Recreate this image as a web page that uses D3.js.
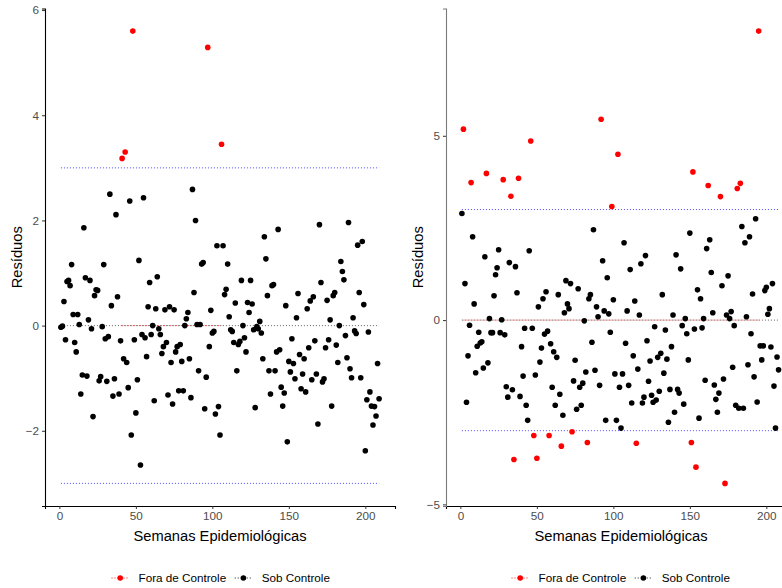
<!DOCTYPE html>
<html>
<head>
<meta charset="utf-8">
<script src="https://cdn.jsdelivr.net/npm/d3@7"></script>
<style>
  body { margin: 0; background: #fff; }
  text { font-family: "Liberation Sans", Arial, sans-serif; }
</style>
</head>
<body>
<svg id="chart" width="782" height="588"></svg>
<script>
// Weekly residuals from two control-chart models
const semanaTicks = [0, 50, 100, 150, 200];
const ticksResiduosA = [-2, 0, 2, 4, 6];
const ticksResiduosB = [-5, 0, 5];
const limiteControle = 3;
const grupos = ["Fora de Controle", "Sob Controle"];
const coresGrupos = ["#ff0000", "#000000"];
const tituloX = "Semanas Epidemiológicas";
const tituloY = "Resíduos";

const residuosA = [
  -0.03, -0.01, 0.46, -0.27, 0.84, 0.86, 0.76, 1.16, 0.21, -0.32,
  -0.50, 0.21, 0.02, -1.30, -0.94, 1.86, 0.91, -0.96, 0.11, 0.86,
  -0.06, -1.73, 0.57, 0.68, 0.67, -1.05, -0.97, -0.02, 1.16, -0.25,
  -1.06, -0.21, 2.50, 0.38, -1.34, -1.01, 2.11, 0.55, -1.30, -0.29,
  3.18, -0.63, 3.30, -0.70, -1.18, 2.37, -2.08, 5.60, -0.27,
  -1.66, -1.03, 1.24, -2.65, -0.17, 2.43, -0.23, -0.59, 0.36, 0.82,
  -0.17, 0.00, -1.43, 0.32, 0.93, -0.06, -0.17, -0.53, -0.40, 0.30,
  -0.32, -1.32, 0.36, -0.70, -1.49, 0.30, -0.50, -0.40, -1.24, -0.36,
  -0.68, -1.24, 0.00, 0.13, 0.25, -0.63, -1.37, 2.59, 0.63, 2.00,
  0.02, -0.86, 0.02, 1.17, 1.20, -1.58, -0.98, 5.29, -0.40, 0.29,
  -0.14, -0.11, -1.68, 1.52, -1.54, -2.08, 3.45, 1.52, 0.59,
  0.69, 1.17, 0.17, -0.08, -0.11, -0.32, 0.43, -0.86, -0.36, -0.30,
  0.86, 0.00, -0.23, -0.50, 0.44, 0.25, 0.86, 0.41, -0.08, -1.56,
  -0.02, -0.06, 0.08, -0.14, -0.63, 1.69, 1.27, 0.57, -0.86, -1.30,
  0.76, 0.78, -0.86, -0.50, 1.83, -0.46, -1.17, -1.53, -1.28, 0.38,
  -2.21, -0.68, -0.88, -0.25, -0.72, -1.01, 0.15, 0.61, -0.55, -1.20,
  -0.92, -0.63, -1.26, 0.32, -0.42, 0.47, -1.03, 0.55, -0.29,
  -0.92, -1.87, 1.92, 0.82, -1.07, -1.01, -0.42, 0.48, -0.27, 0.11,
  -1.53, 0.57, 0.63, -0.37, -0.70, 0.00, 1.22, 1.03, 0.87, -0.19,
  -0.61, 1.96, -0.82, -0.99, 0.15, -0.10, -0.15, 1.53, 0.63, -0.99,
  1.60, 0.40, -2.38, -1.41, -0.12, -1.26, -1.53, -1.89, -1.54, -1.72,
  -0.72, -1.39
];

const residuosB = [
  2.89, 5.18, 0.99, -2.23, -0.97, -0.14, 3.73, 2.26, 0.44, -1.43,
  -0.71, -0.33, -0.62, -0.59, -1.30, 1.72, 3.98, -1.16, 0.04, -0.34,
  -0.34, 0.66, 1.23, 1.42, 1.91, -0.34, 0.01, 3.81, -0.40, -1.81,
  -2.09, 1.56, 3.36, -1.89, -3.78, 1.45, 0.74, 3.85, -2.07, -0.72,
  -1.52, -0.22, -2.31, -2.72, 1.88, 4.86, -0.22, -3.13, -1.49, -3.75,
  0.36, -1.14, -0.76, 0.58, -0.38, 0.77, -0.30, -3.13, -0.64, -1.82,
  -0.86, -2.31, -1.01, 0.69, -2.01, -3.42, -2.58, 0.20, 1.07, 0.44,
  0.31, 0.99, -3.03, -1.65, -1.09, -2.42, 0.85, -1.82, -2.31, -1.71,
  -0.02, -1.41, -3.32, 0.58, 0.69, -0.60, 2.45, -1.36, 0.36, 0.09,
  -1.77, 5.45, 1.61, 0.25, -2.72, 1.15, 0.17, -0.33, 3.08, 0.55,
  -1.46, -2.72, 4.50, -1.82, -2.93, -1.46, 2.10, -0.63, 0.25, -1.77,
  1.37, -2.25, -0.97, 0.52, -3.34, -1.33, 0.14, 1.53, -2.25, -2.09,
  1.75, -0.56, -1.66, -1.11, -2.04, -2.23, -0.18, -2.17, -1.01, -1.93,
  -0.90, 0.69, -1.44, -0.27, -1.06, -2.77, -1.88, -0.72, 0.14, -2.50,
  1.77, -1.88, -1.98, 1.39, -0.15, -2.28, 0.04, -0.37, -1.08, 2.36,
  -3.32, 4.02, -0.24, -3.99, 0.82, -2.66, 0.58, -0.21, 0.04, -1.63,
  1.94, 3.65, 2.18, 1.29, 0.20, -1.76, -2.15, -2.50, -1.98, 3.35,
  0.93, -1.60, -4.43, 0.14, 1.20, 0.04, 0.23, -1.28, -0.15, -2.31,
  3.57, -2.39, 3.71, 2.54, -2.39, 2.10, 0.09, -1.21, 2.26, -0.37,
  0.71, -1.54, 2.75, -2.22, 7.84, -0.70, -1.08, -0.70, 0.80, 0.89,
  0.16, 0.31, -0.73, 0.99, -1.79, -2.93, -1.00, -1.35
];

const svg = d3.select("#chart");
svg.append("rect").attr("width", 782).attr("height", 588).attr("fill", "#fff");

const nSemanas = residuosA.length;
const expand = (lo, hi) => { const p = (hi - lo) * 0.05; return [lo - p, hi + p]; };

function painel(residuos, yTicks, box) {
  const dados = residuos.map((r, i) => ({
    semana: i + 1,
    r: r,
    grupo: Math.abs(r) > limiteControle ? grupos[0] : grupos[1]
  }));

  const x = d3.scaleLinear().domain(expand(1, nSemanas)).range([box.x0, box.x1]);
  const lo = Math.min(-limiteControle, d3.min(residuos));
  const hi = Math.max(limiteControle, d3.max(residuos));
  const y = d3.scaleLinear().domain(expand(lo, hi)).range([box.y1, box.y0]);

  const g = svg.append("g");
  const clipId = "clip" + Math.round(box.x0);
  svg.append("clipPath").attr("id", clipId)
    .append("rect").attr("x", box.x0).attr("y", box.y0 - 5)
    .attr("width", box.x1 - box.x0).attr("height", box.y1 - box.y0 + 10);
  const plot = g.append("g").attr("clip-path", `url(#${clipId})`);

  const first = dados[0].semana, last = dados[dados.length - 1].semana;

  // control limits
  [limiteControle, -limiteControle].forEach(v => {
    plot.append("line")
      .attr("x1", x(first)).attr("x2", x(last))
      .attr("y1", y(v)).attr("y2", y(v))
      .attr("stroke", "#3b3bff").attr("stroke-width", 0.9)
      .attr("stroke-dasharray", "1,2");
  });

  // centre line, one dotted segment per group
  [1, 0].forEach(k => {
    const sub = dados.filter(d => d.grupo === grupos[k]);
    if (!sub.length) return;
    plot.append("line")
      .attr("x1", x(d3.min(sub, d => d.semana)))
      .attr("x2", x(d3.max(sub, d => d.semana)))
      .attr("y1", y(0)).attr("y2", y(0))
      .attr("stroke", k === 0 ? "#f03030" : "#555")
      .attr("stroke-width", 0.9)
      .attr("stroke-dasharray", "1,2");
  });

  plot.selectAll("circle.pt").data(dados).join("circle")
    .attr("class", "pt")
    .attr("cx", d => x(d.semana)).attr("cy", d => y(d.r))
    .attr("r", 2.8)
    .attr("fill", d => coresGrupos[grupos.indexOf(d.grupo)]);

  // axes
  const ax = g.append("g").attr("transform", `translate(0,${box.y1})`)
    .call(d3.axisBottom(x).tickValues(semanaTicks).tickSize(3).tickPadding(3));
  const ay = g.append("g").attr("transform", `translate(${box.x0},0)`)
    .call(d3.axisLeft(y).tickValues(yTicks).tickSize(3).tickPadding(3));
  [ax, ay].forEach(a => {
    a.select(".domain").attr("stroke", box.axisColor).attr("stroke-width", 1.1);
    a.selectAll(".tick line").attr("stroke", "#333");
    a.selectAll(".tick text").attr("fill", "#4d4d4d")
      .style("font-size", "11.7px").style("font-family", "'Liberation Sans', Arial, sans-serif");
  });
  ax.select(".domain").attr("stroke", "#000");

  g.append("text")
    .attr("x", (box.x0 + box.x1) / 2).attr("y", box.y1 + 35)
    .attr("text-anchor", "middle").style("font-size", "14.7px")
    .text(tituloX);
  g.append("text")
    .attr("transform", `translate(${box.x0 - 23},${(box.y0 + box.y1) / 2}) rotate(-90)`)
    .attr("text-anchor", "middle").style("font-size", "14.7px")
    .text(tituloY);

  // legend
  const lg = g.append("g").attr("transform", `translate(${box.legendX},578)`);
  let off = 0;
  grupos.forEach((nome, k) => {
    const item = lg.append("g").attr("transform", `translate(${off},0)`);
    item.append("line").attr("x1", 0).attr("x2", 17.3).attr("y1", 0).attr("y2", 0)
      .attr("stroke", coresGrupos[k]).attr("stroke-width", 0.9)
      .attr("stroke-dasharray", "1,2");
    item.append("circle").attr("cx", 8.7).attr("cy", 0).attr("r", 2.8)
      .attr("fill", coresGrupos[k]);
    const t = item.append("text").attr("x", 27).attr("y", 4.2)
      .style("font-size", "11.7px").text(nome);
    off += 27 + t.node().getComputedTextLength() + 8.5;
  });
}

painel(residuosA, ticksResiduosA, { x0: 45, x1: 395, y0: 8.5, y1: 506, axisColor: "#000", legendX: 111.5 });
painel(residuosB, ticksResiduosB, { x0: 446, x1: 796, y0: 8.5, y1: 506, axisColor: "#7a7a7a", legendX: 511.5 });
</script>
</body>
</html>
